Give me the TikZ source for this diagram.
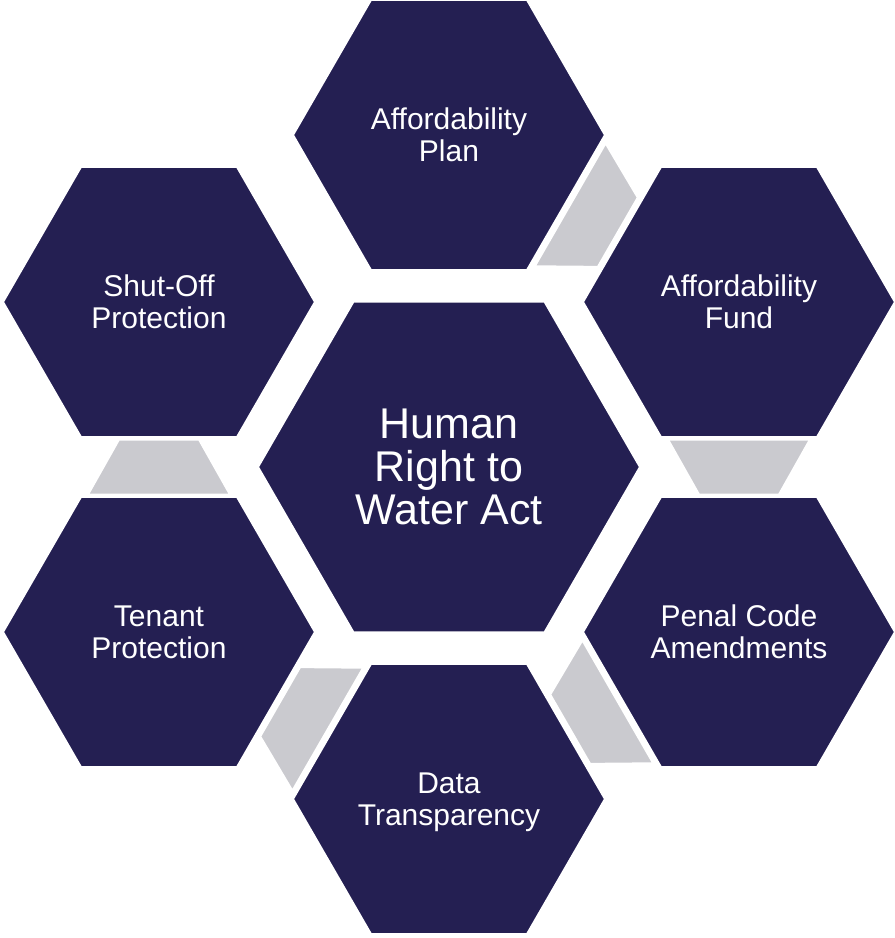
\documentclass[tikz,border=0pt]{standalone}
\usepackage{fontspec}
\setmainfont{Liberation Sans}
\usetikzlibrary{shapes.geometric,calc}
\definecolor{hexnavy}{RGB}{36,31,82}
\definecolor{gapgray}{RGB}{202,202,207}
\tikzset{
  hexnode/.style={regular polygon, regular polygon sides=6, minimum size=312pt,
    inner sep=0pt, fill=hexnavy, draw=white, line width=2pt, text=white,
    align=center, text depth=0pt, font=\fontsize{30}{32}\selectfont},
  bighex/.style={hexnode, minimum size=382pt, font=\fontsize{43}{43}\selectfont},
  gapbar/.style={fill=gapgray, draw=white, line width=2pt}
}
\begin{document}
\begin{tikzpicture}[x=1pt,y=1pt]
  \useasboundingbox (-449,-471) rectangle (446,467);
  \node[bighex] (hub) at (0,0) {Human\\Right to\\Water Act};
  \node[hexnode] (plan) at (0,332) {Affordability\\Plan};
  \node[hexnode] (fund) at (290,165) {Affordability\\Fund};
  \node[hexnode] (penal) at (290,-165) {Penal Code\\Amendments};
  \node[hexnode] (data) at (0,-332) {Data\\Transparency};
  \node[hexnode] (tenant) at (-290,-165) {Tenant\\Protection};
  \node[hexnode] (shutoff) at (-290,165) {Shut-Off\\Protection};
  \foreach \a/\b in {plan/fund,fund/penal,penal/data,data/tenant,tenant/shutoff}{
    \coordinate (mid) at ($(\a)!0.5!(\b)$);
    \coordinate (lo) at ($(mid)!27.5pt!(\a)$);
    \coordinate (hi) at ($(mid)!27.5pt!(\b)$);
    \draw[gapbar] ($(lo)!71pt!90:(\a)$) -- ($(lo)!71pt!-90:(\a)$)
      -- ($(hi)!40pt!90:(\b)$) -- ($(hi)!40pt!-90:(\b)$) -- cycle;
  }
\end{tikzpicture}
\end{document}
